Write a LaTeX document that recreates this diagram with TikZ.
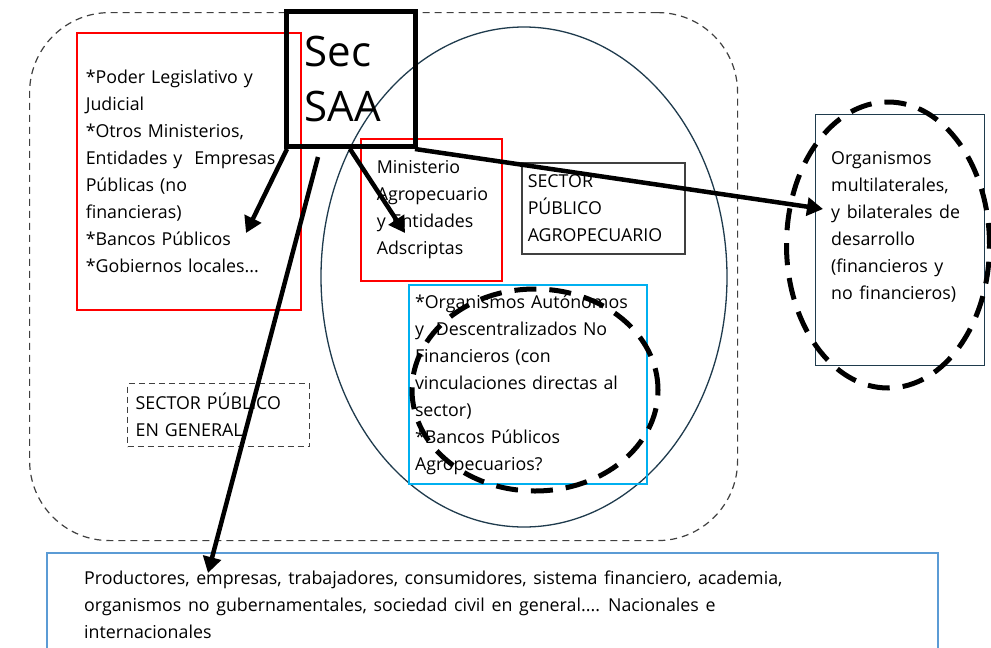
\documentclass[tikz,border=0pt]{standalone}
\usepackage{fontspec}
\setmainfont{Open Sans}
\usetikzlibrary{arrows.meta,shapes.geometric,calc}
\definecolor{boxred}{HTML}{FF0000}
\definecolor{boxcyan}{HTML}{00B0F0}
\definecolor{boxblue}{HTML}{5B9BD5}
\definecolor{navy}{HTML}{1F3B4D}
\definecolor{darkgray}{HTML}{404040}
\DeclareRobustCommand\mytxtfont{\fontsize{17.8}{27}\selectfont\spaceskip=6.6pt plus 1pt minus 1pt\relax}
\begin{document}
\begin{tikzpicture}[x=1pt,y=-1pt,
  txt/.style={font=\mytxtfont, align=left},
  boxnode/.style={anchor=north west, inner ysep=0pt, txt},
  bigarrow/.style={line width=4.5pt, -{Triangle[length=16pt,width=18pt]}},
  bigdash/.style={line width=5pt, dash pattern=on 22pt off 13pt},
]
\clip (0,0) rectangle (991,648);
\fill[white] (0,0) rectangle (991,648);

% outer dashed rounded area
\node[draw=darkgray, line width=1.2pt, dash pattern=on 7pt off 5pt, rounded corners=80pt,
  anchor=north west, minimum width=708pt, minimum height=528pt, inner sep=0pt] (outer) at (29,12) {};

% agro ellipse
\node[draw=navy, line width=1.3pt, ellipse, minimum width=406pt, minimum height=500pt, inner sep=0pt] (agro) at (524,277) {};

% left red box
\node[boxnode, draw=boxred, line width=1.5pt, inner xsep=9pt, text width=206pt, minimum height=277pt] (leftred) at (76,32)
  {{*}Poder Legislativo y\\Judicial\\{*}Otros Ministerios,\\Entidades y~ Empresas\\Públicas (no\\financieras)\\{*}Bancos Públicos\\{*}Gobiernos locales...};

% middle red box
\node[boxnode, draw=boxred, line width=1.5pt, inner xsep=16pt, text width=109pt, minimum height=142pt] (midred) at (360,138)
  {Ministerio\\Agropecuario\\y Entidades\\Adscriptas};

% sector publico agropecuario
\node[boxnode, draw=darkgray, line width=1.5pt, inner xsep=6pt, text width=151pt, minimum height=91pt] (spa) at (521,162)
  {SECTOR\\PÚBLICO\\AGROPECUARIO};

% cyan box
\node[boxnode, draw=boxcyan, line width=2pt, inner xsep=6pt, text width=226pt, minimum height=199pt] (cyan) at (408,284)
  {{*}Organismos Autónomos\\y~ Descentralizados No\\Financieros (con\\vinculaciones directas al\\sector)\\{*}Bancos Públicos\\Agropecuarios?};

% sector publico en general
\node[boxnode, draw=darkgray, line width=1.3pt, dash pattern=on 6pt off 4pt, inner xsep=8pt, text width=166pt, minimum height=63pt] (spg) at (127,383)
  {SECTOR PÚBLICO\\EN GENERAL};

% right box
\node[draw=navy, line width=1.3pt, anchor=north west, minimum width=169pt, minimum height=251pt, inner sep=0pt] (rightbox) at (815,114) {};
\node[txt, anchor=north west, inner sep=0pt] (righttext) at (831,151)
  {Organismos\\multilaterales,\\y bilaterales de\\desarrollo\\(financieros y\\no financieros)};

% bottom box
\node[draw=boxblue, line width=2pt, anchor=north west, minimum width=891pt, minimum height=120pt, inner sep=0pt] (bottombox) at (46,552) {};
\node[txt, anchor=north west, inner sep=0pt] (bottomtext) at (84,571)
  {Productores, empresas, trabajadores, consumidores, sistema financiero, academia,\\organismos no gubernamentales, sociedad civil en general.... Nacionales e\\internacionales};

% Sec SAA box
\node[draw=black, line width=5pt, anchor=north west, minimum width=129pt, minimum height=135pt,
  inner xsep=18pt, inner ysep=0pt, text width=93pt, align=left, font=\fontsize{42}{55}\selectfont] (sec) at (284,9)
  {Sec\\SAA};

% dashed thick ellipses
\node[bigdash, draw=black, ellipse, minimum width=246pt, minimum height=202pt, inner sep=0pt] (dashA) at (535,390) {};
\node[bigdash, draw=black, ellipse, minimum width=203pt, minimum height=286pt, inner sep=0pt] (dashB) at (888,245) {};

% arrow end points
\coordinate (t1) at (246,233);
\coordinate (t2) at (208,573);
\coordinate (t3) at (405,233);
\coordinate (t4) at (823,209);

\draw[bigarrow] ($(sec.south west)+(3,0)$) -- (t1);
\draw[bigarrow] ($(sec.south west)+(34,8)$) -- (t2);
\draw[bigarrow] ($(sec.south west)+(66,0)$) -- (t3);
\draw[bigarrow] ($(sec.south east)+(-3,0)$) -- (t4);
\end{tikzpicture}
\end{document}
